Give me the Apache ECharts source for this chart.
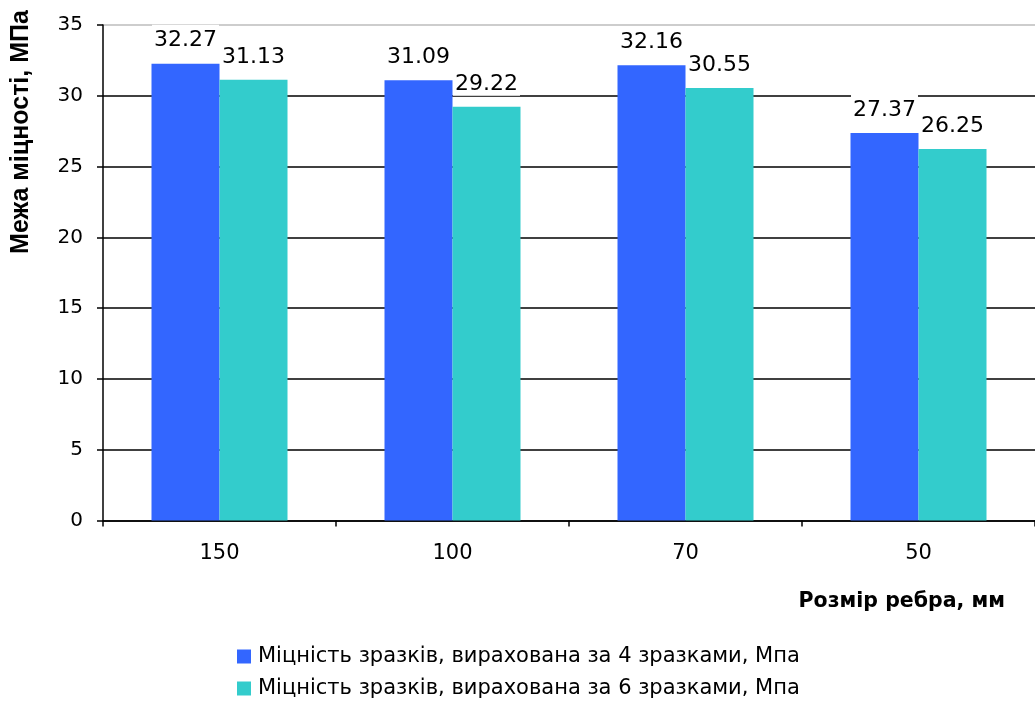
<!DOCTYPE html>
<html><head><meta charset="utf-8">
<script src="https://cdn.jsdelivr.net/npm/echarts@6/dist/echarts.min.js"></script>
<style>html,body{margin:0;padding:0;background:#fff}#c{width:1035px;height:702px}</style>
</head><body><div id="c"></div>
<script>
const categories = ['150', '100', '70', '50'];
const series4 = [32.27, 31.09, 32.16, 27.37];
const series6 = [31.13, 29.22, 30.55, 26.25];
const seriesNames = ['Міцність зразків, вирахована за 4 зразками, Мпа', 'Міцність зразків, вирахована за 6 зразками, Мпа'];
const yTitle = 'Межа міцності, МПа';
const xTitle = 'Розмір ребра, мм';
const FONT = '"DejaVu Sans", "Liberation Sans", Arial, sans-serif';
const FONT_A = '"Liberation Sans", Arial, sans-serif';

const chart = echarts.init(document.getElementById('c'), null, {renderer: 'canvas'});
const labelCfg = {
  show: true, position: 'top', distance: 11, color: '#000', fontSize: 22, fontFamily: FONT,
  backgroundColor: '#fff', padding: [5, 2, 1, 2], formatter: p => p.value.toFixed(2)
};
chart.setOption({
  animation: false,
  textStyle: {fontFamily: FONT},
  grid: {left: 103, top: 25, width: 946, height: 495.5, containLabel: false},
  xAxis: {
    type: 'category', data: categories, boundaryGap: true,
    axisLine: {lineStyle: {color: '#000', width: 1.5}},
    axisTick: {show: true, length: 6, lineStyle: {color: '#000', width: 1.5}},
    axisLabel: {color: '#000', fontSize: 21, margin: 23, fontFamily: FONT},
    splitLine: {show: false}
  },
  yAxis: {
    type: 'value', min: 0, max: 35, interval: 5,
    axisLine: {show: true, lineStyle: {color: '#000', width: 1.5}},
    axisTick: {show: true, length: 6, lineStyle: {color: '#000', width: 1.5}},
    axisLabel: {color: '#000', fontSize: 20, margin: 20, fontFamily: FONT},
    splitLine: {show: true, lineStyle: {color: ['#000','#000','#000','#000','#000','#000','#000','#bdbdbd'], width: 1.5}}
  },
  legend: {
    orient: 'vertical', left: 237, top: 646, padding: 0, itemWidth: 14, itemHeight: 14, itemGap: 11,
    icon: 'rect', textStyle: {color: '#000', fontSize: 21, fontFamily: FONT, lineHeight: 21, padding: [0, 0, 0, 2]},
    data: seriesNames
  },
  series: [
    {name: seriesNames[0], type: 'bar', data: series4, barWidth: 68, barGap: '0%',
     itemStyle: {color: '#3366FF'}, label: labelCfg, z: 3},
    {name: seriesNames[1], type: 'bar', data: series6, barWidth: 68, barGap: '0%',
     itemStyle: {color: '#33CCCC'}, label: labelCfg, z: 3}
  ],
  graphic: [
    {type: 'text', x: 21, y: 132, rotation: Math.PI / 2,
     style: {text: yTitle, fill: '#000', font: 'bold 25px ' + FONT_A, textAlign: 'center', textVerticalAlign: 'middle'}},
    {type: 'text', x: 1005, y: 602,
     style: {text: xTitle, fill: '#000', font: 'bold 20.5px ' + FONT, textAlign: 'right', textVerticalAlign: 'middle'}}
  ]
});
</script></body></html>
